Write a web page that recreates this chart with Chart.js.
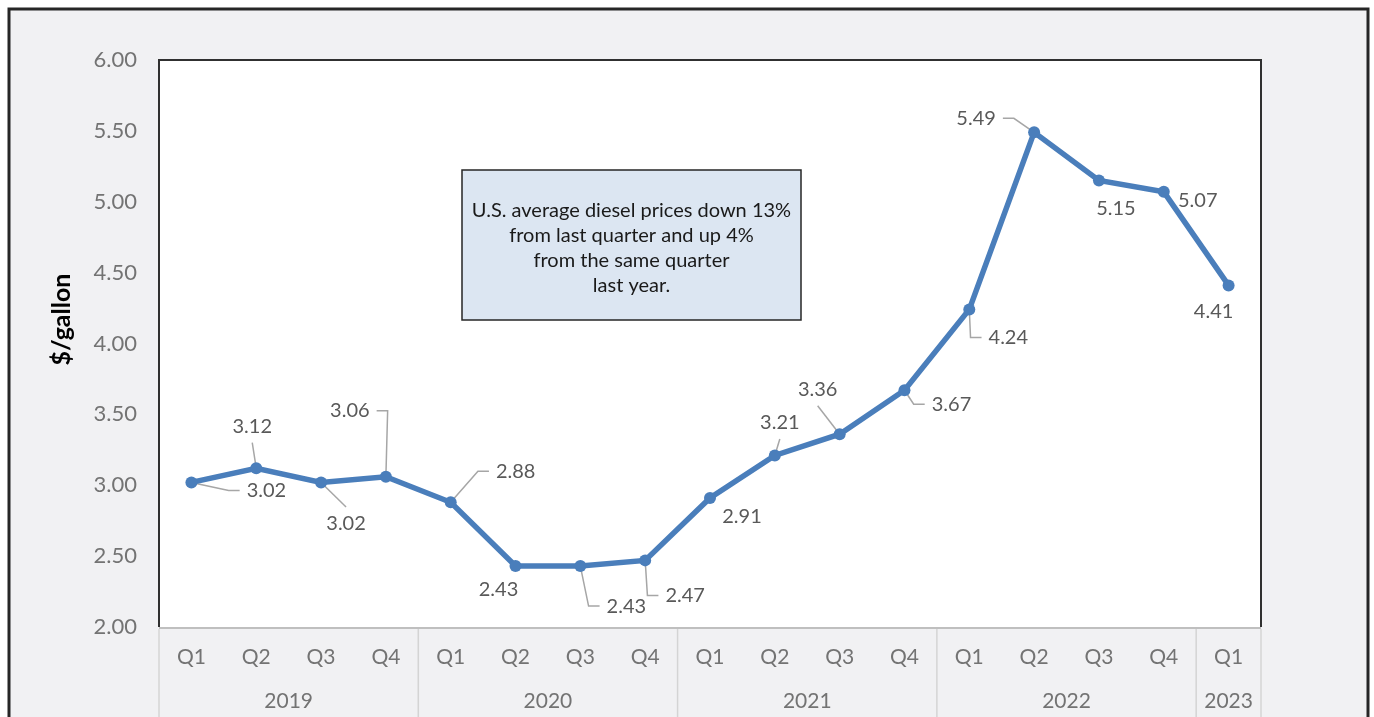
<!DOCTYPE html>
<html>
<head>
<meta charset="utf-8">
<script src="https://cdn.jsdelivr.net/npm/chart.js@4.4.0/dist/chart.umd.min.js"></script>
<style>
  html, body { margin: 0; padding: 0; background: #fff; }
  #wrap { width: 1374px; height: 717px; position: relative; }
</style>
</head>
<body>
<div id="wrap"><canvas id="chart"></canvas></div>
<script>
// --- DATA ---
const quarters = ['Q1','Q2','Q3','Q4','Q1','Q2','Q3','Q4','Q1','Q2','Q3','Q4','Q1','Q2','Q3','Q4','Q1'];
const years = ['2019', '2020', '2021', '2022', '2023'];
const yearSpans = [4, 4, 4, 4, 1];
const prices = [3.02, 3.12, 3.02, 3.06, 2.88, 2.43, 2.43, 2.47, 2.91, 3.21, 3.36, 3.67, 4.24, 5.49, 5.15, 5.07, 4.41];
const yTicks = [2.0, 2.5, 3.0, 3.5, 4.0, 4.5, 5.0, 5.5, 6.0];
const yTitle = '$/gallon';
const noteLines = ['U.S. average diesel prices down 13%', 'from last quarter and up 4%', 'from the same quarter', 'last year.'];

// label placement relative to each point: [dx, dy, leader] (0 none, 1 side elbow, 2 straight)
const labelPlace = [
  [75, 8, 1], [-4, -42, 2], [25, 41, 2], [-36, -66, 1], [65, -31, 1],
  [-17, 23, 0], [46, 40, 1], [40, 35, 1], [32, 19, 0], [5, -33, 2],
  [-22, -45, 2], [47, 14, 1], [39, 28, 1], [-58, -14, 1], [17, 28, 0],
  [34, 9, 0], [-15, 26, 0]
];

const FONT = 'Lato, "Open Sans", sans-serif';
const BLUE = '#4a7ebb';

// --- PLUGINS ---
const frame = {
  id: 'frame',
  beforeDraw(chart) {
    const ctx = chart.ctx, a = chart.chartArea;
    ctx.save();
    ctx.fillStyle = '#ffffff';
    ctx.fillRect(0, 0, chart.width, chart.height);
    ctx.fillStyle = '#f1f1f3';
    ctx.fillRect(9, 9, 1359, chart.height);
    ctx.strokeStyle = '#262626';
    ctx.lineWidth = 3;
    ctx.strokeRect(9, 9, 1359, chart.height + 10);
    ctx.fillStyle = '#ffffff';
    ctx.fillRect(a.left, a.top, a.right - a.left, a.bottom - a.top);
    ctx.restore();
  },
  beforeDatasetsDraw(chart) {
    const ctx = chart.ctx, a = chart.chartArea;
    ctx.save();
    // plot border (left, top, right)
    ctx.strokeStyle = '#303030';
    ctx.lineWidth = 2;
    ctx.beginPath();
    ctx.moveTo(a.left, a.bottom);
    ctx.lineTo(a.left, a.top);
    ctx.lineTo(a.right, a.top);
    ctx.lineTo(a.right, a.bottom);
    ctx.stroke();

    // category axis
    const xs = chart.scales.x;
    ctx.strokeStyle = '#bfbfbf';
    ctx.beginPath();
    ctx.moveTo(a.left, a.bottom + 1);
    ctx.lineTo(a.right, a.bottom + 1);
    ctx.stroke();

    const edges = [a.left];
    let idx = 0;
    yearSpans.forEach((n, k) => {
      idx += n;
      if (k < yearSpans.length - 1) {
        edges.push((xs.getPixelForValue(idx - 1) + xs.getPixelForValue(idx)) / 2);
      }
    });
    edges.push(a.right);
    ctx.strokeStyle = '#d4d4d4';
    ctx.lineWidth = 1.5;
    edges.forEach(ex => {
      ctx.beginPath();
      ctx.moveTo(ex, a.bottom + 2);
      ctx.lineTo(ex, chart.height);
      ctx.stroke();
    });

    ctx.fillStyle = '#737373';
    ctx.textAlign = 'center';
    ctx.textBaseline = 'middle';
    ctx.font = '21px ' + FONT;
    quarters.forEach((q, i) => ctx.fillText(q, xs.getPixelForValue(i), a.bottom + 30));
    years.forEach((y, k) => ctx.fillText(y, (edges[k] + edges[k + 1]) / 2, a.bottom + 74));

    // leader lines
    const meta = chart.getDatasetMeta(0);
    ctx.font = '20px ' + FONT;
    ctx.strokeStyle = '#a6a6a6';
    ctx.lineWidth = 1.5;
    meta.data.forEach((pt, i) => {
      const [dx, dy, lead] = labelPlace[i];
      if (!lead) return;
      const cx = pt.x + dx, cy = pt.y + dy;
      const w = ctx.measureText(prices[i].toFixed(2)).width;
      ctx.beginPath();
      ctx.moveTo(pt.x, pt.y);
      if (lead === 1) {
        const side = dx > 0 ? -1 : 1;
        const edge = cx + side * w / 2;
        ctx.lineTo(edge + side * 18, cy);
        ctx.lineTo(edge + side * 7, cy);
      } else {
        const s = dy > 0 ? -1 : 1;
        ctx.lineTo(cx, cy + s * (7.5 + 9));
      }
      ctx.stroke();
    });
    ctx.restore();
  },
  afterDraw(chart) {
    const ctx = chart.ctx, a = chart.chartArea;
    const meta = chart.getDatasetMeta(0);
    ctx.save();
    ctx.textAlign = 'center';
    ctx.textBaseline = 'middle';

    // data labels
    ctx.font = '20px ' + FONT;
    ctx.fillStyle = '#595959';
    meta.data.forEach((pt, i) => {
      const [dx, dy] = labelPlace[i];
      ctx.fillText(prices[i].toFixed(2), pt.x + dx, pt.y + dy);
    });

    // note box
    ctx.fillStyle = '#dce6f2';
    ctx.fillRect(462, 170, 339, 150);
    ctx.strokeStyle = '#262626';
    ctx.lineWidth = 1.5;
    ctx.strokeRect(462, 170, 339, 150);
    ctx.fillStyle = '#1a1a1a';
    ctx.font = '20px ' + FONT;
    noteLines.forEach((t, i) => ctx.fillText(t, 631.5, 211 + i * 25));

    // axis title
    ctx.translate(62, (a.top + a.bottom) / 2 - 24);
    ctx.rotate(-Math.PI / 2);
    ctx.font = 'bold 25px ' + FONT;
    ctx.fillStyle = '#000000';
    ctx.fillText(yTitle, 0, 0);
    ctx.restore();
  }
};

// --- CHART ---
new Chart(document.getElementById('chart'), {
  type: 'line',
  data: {
    labels: quarters.map((q, i) => q + '-' + i),
    datasets: [{
      data: prices,
      borderColor: BLUE,
      backgroundColor: BLUE,
      borderWidth: 5.5,
      pointRadius: 6,
      pointBorderWidth: 0,
      pointBackgroundColor: BLUE,
      tension: 0,
      clip: false
    }]
  },
  options: {
    responsive: true,
    maintainAspectRatio: false,
    animation: false,
    events: [],
    layout: { padding: { left: 0, top: 60, right: 113, bottom: 90 } },
    plugins: { legend: { display: false }, tooltip: { enabled: false } },
    scales: {
      x: {
        offset: true,
        grid: { display: false, drawTicks: false },
        border: { display: false },
        ticks: { display: false },
        afterFit: s => { s.height = 0; }
      },
      y: {
        min: 2, max: 6,
        afterBuildTicks: s => { s.ticks = yTicks.map(v => ({ value: v })); },
        grid: { display: false, drawTicks: false },
        border: { display: false },
        ticks: {
          color: '#737373',
          padding: 22,
          font: { family: FONT, size: 22 },
          callback: v => Number(v).toFixed(2)
        },
        afterFit: s => { s.width = 159; }
      }
    }
  },
  plugins: [frame]
});
</script>
</body>
</html>
